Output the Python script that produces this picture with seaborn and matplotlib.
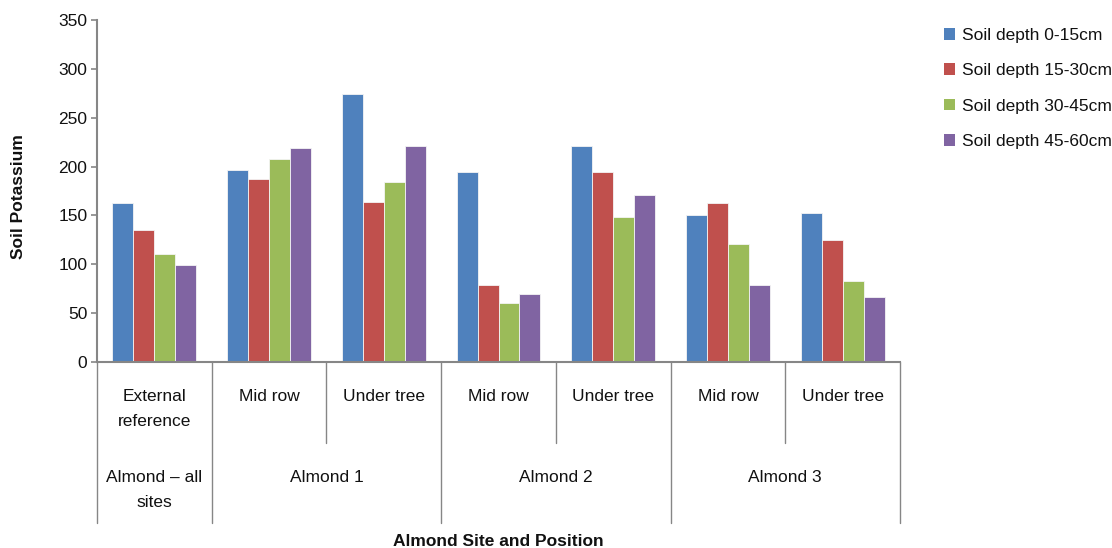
import matplotlib
matplotlib.use("Agg")
import matplotlib.pyplot as plt
import seaborn as sns
import pandas as pd
from matplotlib.patches import Patch

# Category structure along the x axis
sites = ["Almond \u2013 all\nsites", "Almond 1", "Almond 2", "Almond 3"]
site_spans = [1, 2, 2, 2]
positions = ["External\nreference", "Mid row", "Under tree", "Mid row", "Under tree", "Mid row", "Under tree"]

depths = ["Soil depth 0-15cm", "Soil depth 15-30cm", "Soil depth 30-45cm", "Soil depth 45-60cm"]
depth_0_15 = [163, 196, 274, 194, 221, 150, 152]
depth_15_30 = [135, 187, 164, 79, 194, 163, 125]
depth_30_45 = [111, 208, 184, 60, 148, 121, 83]
depth_45_60 = [99, 219, 221, 70, 171, 79, 67]

colors = ["#4F81BD", "#C0504D", "#9BBB59", "#8064A2"]

sns.set_theme(style="white")
plt.rcParams["font.family"] = ["Liberation Sans", "DejaVu Sans"]

# Unique key per category slot (site + position)
site_of_slot = []
for s, n in zip(sites, site_spans):
    site_of_slot += [s] * n
slot_keys = [f"{s}|{p}" for s, p in zip(site_of_slot, positions)]

rows = []
for depth, vals in zip(depths, [depth_0_15, depth_15_30, depth_30_45, depth_45_60]):
    for key, v in zip(slot_keys, vals):
        rows.append({"slot": key, "depth": depth, "potassium": v})
df = pd.DataFrame(rows)

fig = plt.figure(figsize=(11.12, 5.48), dpi=100)
ax = fig.add_axes([97 / 1112, 1 - 362 / 548, (900 - 97) / 1112, 342 / 548])

sns.barplot(data=df, x="slot", y="potassium", hue="depth", order=slot_keys,
            hue_order=depths, palette=colors, saturation=1, width=0.73,
            edgecolor="#f4f4f4", linewidth=0.6, ax=ax, legend=False)

grey = "#868686"
txt = "#111111"
fs = 12.5
ax.set_xlim(-0.5, len(slot_keys) - 0.5)
ax.set_ylim(0, 350)
ax.set_yticks(range(0, 351, 50))
ax.tick_params(axis="y", labelsize=fs, length=4, width=1.2, color=grey, left=True,
               pad=3, labelcolor=txt)
ax.set_xticks([])
ax.set_xlabel("")
ax.set_ylabel("")
for side in ["top", "right"]:
    ax.spines[side].set_visible(False)
for side in ["left", "bottom"]:
    ax.spines[side].set_color(grey)
    ax.spines[side].set_linewidth(1.5)

trans = ax.get_xaxis_transform()
h = 342.0

def frac(px):
    return -(px - 362) / h

# Separator lines of the two-level category axis
site_bounds = [-0.5]
for n in site_spans:
    site_bounds.append(site_bounds[-1] + n)
for i in range(len(slot_keys) + 1):
    xb = i - 0.5
    bottom = frac(523) if xb in site_bounds else frac(443)
    ax.plot([xb, xb], [0, bottom], transform=trans, color=grey, lw=1.0, clip_on=False)

# Position labels
for i, p in enumerate(positions):
    ax.text(i, frac(389), p, transform=trans, ha="center", va="top",
            fontsize=fs, linespacing=1.8, color=txt)

# Site labels
for s, lo, hi in zip(sites, site_bounds[:-1], site_bounds[1:]):
    ax.text((lo + hi) / 2, frac(470), s, transform=trans, ha="center", va="top",
            fontsize=fs, linespacing=1.8, color=txt)

ax.text(0.5 * (len(slot_keys) - 1), frac(541), "Almond Site and Position", transform=trans,
        ha="center", va="center", fontsize=fs, fontweight="bold", color=txt)

fig.text(19 / 1112, 1 - 197 / 548, "Soil Potassium", rotation=90, ha="center", va="center",
         fontsize=fs, fontweight="bold", color=txt)

handles = [Patch(facecolor=c, edgecolor="none") for c in colors]
fig.legend(handles, depths, loc="upper left", bbox_to_anchor=(944 / 1112, 1 - 28 / 548),
           frameon=False, fontsize=fs, handlelength=0.65, handleheight=0.65,
           handletextpad=0.4, labelspacing=1.17, borderaxespad=0, borderpad=0,
           labelcolor=txt)

fig.savefig("out.png", dpi=100)
